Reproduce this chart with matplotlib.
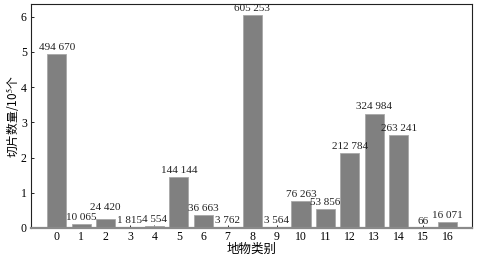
import matplotlib
matplotlib.use("Agg")
import matplotlib.pyplot as plt

plt.rcParams["mathtext.fontset"] = "stix"

categories = list(range(17))
counts = [494670, 10065, 24420, 1815, 4554, 144144, 36663, 3762, 605253,
          3564, 76263, 53856, 212784, 324984, 263241, 66, 16071]
labels = ["494 670", "10 065", "24 420", "1 815", "4 554", "144 144", "36 663",
          "3 762", "605 253", "3 564", "76 263", "53 856", "212 784", "324 984",
          "263 241", "66", "16 071"]
yticks = [0, 1, 2, 3, 4, 5, 6]

serif = ["Liberation Serif", "DejaVu Serif"]
cjk = ["Noto Sans CJK SC", "Liberation Serif"]

fig = plt.figure(figsize=(4.79, 2.57), dpi=100)
ax = fig.add_axes([31/479, 1 - 228/257, (472-31)/479, (228-4)/257])

vals = [c / 1e5 for c in counts]
ax.bar(categories, vals, width=0.78, color="#808080", edgecolor="#a8a8a8", linewidth=0.6, zorder=2)
extra = {2: 3.5}
for x, v, lab in zip(categories, vals, labels):
    ax.annotate(lab, (x, v), xytext=(0, 1.5 + extra.get(x, 0)), textcoords="offset points",
                ha="center", va="bottom", fontsize=8, family=serif, color="#222222")

ax.set_xlim(-1.05, 17.0)
ax.set_ylim(0, 6.36)
ax.set_xticks(categories)
ax.set_xticklabels([str(c) for c in categories], family=serif, fontsize=8.5)
ax.set_yticks(yticks)
ax.set_yticklabels([str(t) for t in yticks], family=serif, fontsize=8.5)
ax.tick_params(direction="in", length=2.5, width=0.6, pad=3)
ax.tick_params(axis="x", pad=2)
for s in ["top", "right", "left"]:
    ax.spines[s].set_linewidth(0.8)
    ax.spines[s].set_color("#222222")
ax.spines["bottom"].set_linewidth(1.6)
ax.spines["bottom"].set_color("#8a8a8a")

ax.set_xlabel("地物类别", family=cjk, fontsize=9)
ax.xaxis.set_label_coords(0.5, -15/224)
ax.set_ylabel("切片数量/10$^{5}$个", family=cjk, fontsize=8.5)
ax.yaxis.set_label_coords(-9.5/441, 0.5)

fig.savefig("out.png", dpi=100)
